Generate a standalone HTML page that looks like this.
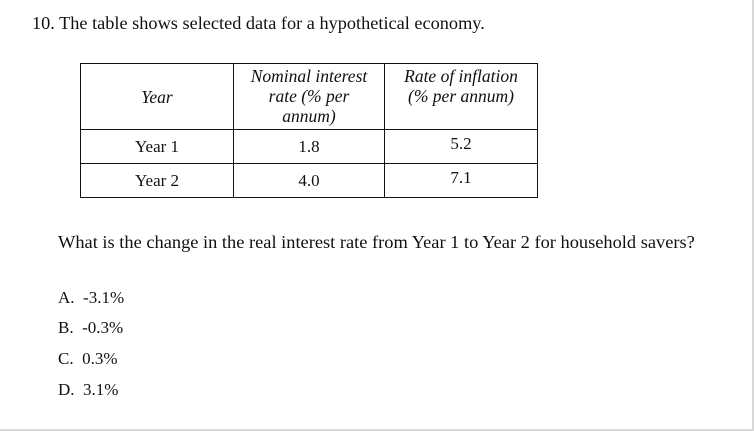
<!DOCTYPE html>
<html><head><meta charset="utf-8"><style>
html,body{margin:0;padding:0;background:#fff;}
body{width:754px;height:431px;position:relative;overflow:hidden;color:#111;}
*{font-family:"Liberation Serif","DejaVu Serif","Times New Roman",serif;}
.t{position:absolute;white-space:nowrap;line-height:1;}
.frame{position:absolute;left:0;top:0;width:752px;height:429px;border-right:2px solid #d8d8d8;border-bottom:2px solid #d8d8d8;}
table{position:absolute;left:80px;top:63px;border-collapse:collapse;}
td{border:1.5px solid #111;text-align:center;font-size:17px;padding:0;}
.h td{font-style:italic;height:63px;vertical-align:top;line-height:20px;font-size:17.5px;}
</style></head><body>
<div class="frame"></div>
<div class="t" style="left:32px;top:14px;font-size:18.3px;">10. The table shows selected data for a hypothetical economy.</div>
<table>
<tr class="h">
<td style="width:152px;vertical-align:middle;">Year</td>
<td style="width:150px;padding-top:2px;">Nominal interest<br>rate (% per<br>annum)</td>
<td style="width:152px;padding-top:2px;">Rate of inflation<br>(% per annum)</td>
</tr>
<tr style="height:34px">
<td>Year 1</td>
<td>1.8</td>
<td style="vertical-align:top;padding-top:4px">5.2</td>
</tr>
<tr style="height:34px">
<td>Year 2</td>
<td>4.0</td>
<td style="vertical-align:top;padding-top:4px">7.1</td>
</tr>
</table>
<div class="t" style="left:58px;top:233px;font-size:18.4px;">What is the change in the real interest rate from Year 1 to Year 2 for household savers?</div>
<div class="t" style="left:58px;top:289px;font-size:17px;">A.&nbsp; -3.1%</div>
<div class="t" style="left:58px;top:319px;font-size:17px;">B.&nbsp; -0.3%</div>
<div class="t" style="left:58px;top:350px;font-size:17px;">C.&nbsp; 0.3%</div>
<div class="t" style="left:58px;top:381px;font-size:17px;">D.&nbsp; 3.1%</div>
</body></html>
